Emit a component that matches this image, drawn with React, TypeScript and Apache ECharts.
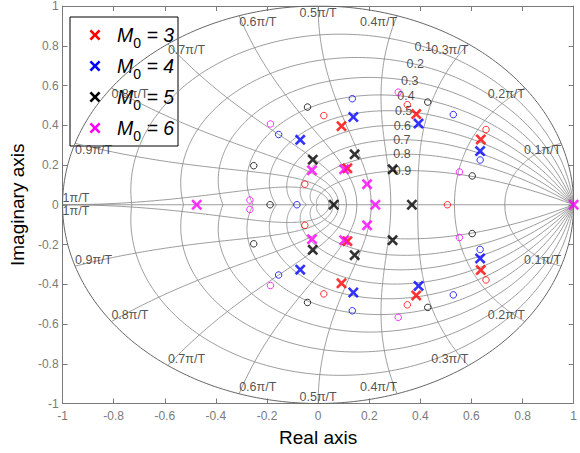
import React, { useEffect, useRef } from 'react';
import * as echarts from 'echarts';

// ---- data ----
const M0_VALUES = [3, 4, 5, 6];
const COLORS = ['#ff0000', '#0000ff', '#000000', '#ff00ff'];

const POLES_M3 = [[0.0915, 0.395], [0.0915, -0.395], [0.1146, 0.1835], [0.1146, -0.1835], [0.384, 0.4565], [0.384, -0.4565], [0.6365, 0.3285], [0.6365, -0.3285]];
const ZEROS_M3 = [[0.0223, 0.4485], [0.0223, -0.4485], [-0.052, 0.1035], [-0.052, -0.1035], [0.349, 0.5035], [0.349, -0.5035], [0.657, 0.3785], [0.657, -0.3785], [0.506, 0]];
const POLES_M4 = [[0.1377, 0.4415], [0.1377, -0.4415], [-0.07, 0.3265], [-0.07, -0.3265], [0.393, 0.4085], [0.393, -0.4085], [0.634, 0.27], [0.634, -0.27]];
const ZEROS_M4 = [[0.1338, 0.5335], [0.1338, -0.5335], [-0.1546, 0.3535], [-0.1546, -0.3535], [-0.083, 0], [0.529, 0.4535], [0.529, -0.4535], [0.634, 0.225], [0.634, -0.225]];
const POLES_M5 = [[0.143, 0.2535], [0.143, -0.2535], [-0.021, 0.2265], [-0.021, -0.2265], [0.061, 0], [0.2915, 0.1785], [0.2915, -0.1785], [0.367, 0]];
const ZEROS_M5 = [[-0.0415, 0.4915], [-0.0415, -0.4915], [-0.252, 0.1965], [-0.252, -0.1965], [-0.188, 0], [0.429, 0.5165], [0.429, -0.5165], [0.603, 0.145], [0.603, -0.145]];
const POLES_M6 = [[-0.024, 0.1735], [-0.024, -0.1735], [0.102, 0.1785], [0.102, -0.1785], [0.1915, 0.1035], [0.1915, -0.1035], [0.224, 0], [-0.475, 0], [1, 0]];
const ZEROS_M6 = [[-0.1865, 0.4065], [-0.1865, -0.4065], [-0.267, 0.0235], [-0.267, -0.0235], [0.3135, 0.5665], [0.3135, -0.5665], [0.553, 0.165], [0.553, -0.165]];

const POLES = [POLES_M3, POLES_M4, POLES_M5, POLES_M6];
const ZEROS = [ZEROS_M3, ZEROS_M4, ZEROS_M5, ZEROS_M6];

// grid (zgrid) parameters
const DAMPING = [0.1, 0.2, 0.3, 0.4, 0.5, 0.6, 0.7, 0.8, 0.9];
const WN_FRACTIONS = [0.1, 0.2, 0.3, 0.4, 0.5, 0.6, 0.7, 0.8, 0.9, 1];
const DAMPING_LABEL_WN = 0.35; // fraction of pi/T where damping labels sit

// axes
const AXIS_MIN = -1;
const AXIS_MAX = 1;
const AXIS_INTERVAL = 0.2;

const FONT = '"Liberation Sans", Arial, Helvetica, sans-serif';
const X_PATH = 'path://M0 1.7L1.7 0L5 3.3L8.3 0L10 1.7L6.7 5L10 8.3L8.3 10L5 6.7L1.7 10L0 8.3L3.3 5Z';

function zetaCurve(z: number, sign: number) {
  const m = z / Math.sqrt(1 - z * z);
  const pts: number[][] = [];
  for (let i = 0; i <= 180; i++) {
    const th = (Math.PI * i) / 180;
    const r = Math.exp(-m * th);
    pts.push([r * Math.cos(th), sign * r * Math.sin(th)]);
  }
  return pts;
}

function wnCurve(frac: number, sign: number) {
  const w = frac * Math.PI;
  const pts: number[][] = [];
  for (let i = 0; i <= 120; i++) {
    const zeta = i / 120;
    const re = -zeta * w;
    const im = w * Math.sqrt(1 - zeta * zeta);
    const r = Math.exp(re);
    pts.push([r * Math.cos(im), sign * r * Math.sin(im)]);
  }
  return pts;
}

function unitCircle() {
  const pts: number[][] = [];
  for (let i = 0; i <= 360; i++) {
    const th = (2 * Math.PI * i) / 360;
    pts.push([Math.cos(th), Math.sin(th)]);
  }
  return pts;
}

// X-shaped legend icon (polygon) centred at cx, cy with half size h
function xIconPoints(cx: number, cy: number, h: number) {
  const t = h * 0.34;
  return [
    [-h, -h + t], [-h + t, -h], [0, -t], [h - t, -h], [h, -h + t], [t, 0],
    [h, h - t], [h - t, h], [0, t], [-h + t, h], [-h, h - t], [-t, 0],
  ].map(([x, y]) => [cx + x, cy + y]);
}

export default function App() {
  const ref = useRef<HTMLDivElement>(null);

  useEffect(() => {
    if (!ref.current) return;
    const chart = echarts.init(ref.current, undefined, { renderer: 'svg' });

    const gridCurves: number[][][] = [];
    DAMPING.forEach((z) => {
      gridCurves.push(zetaCurve(z, 1));
      gridCurves.push(zetaCurve(z, -1));
    });
    WN_FRACTIONS.forEach((f) => {
      gridCurves.push(wnCurve(f, 1));
      gridCurves.push(wnCurve(f, -1));
    });
    gridCurves.push([[AXIS_MIN, 0], [AXIS_MAX, 0]]);

    const freqLabels: any[] = [];
    WN_FRACTIONS.forEach((f) => {
      const a = f * Math.PI;
      const text = `${f}π/T`;
      const align = f < 0.5 ? 'right' : f > 0.5 ? 'left' : 'center';
      [1, -1].forEach((s) => {
        freqLabels.push({
          value: [Math.cos(a), s * Math.sin(a)],
          label: { formatter: text, align, verticalAlign: s > 0 ? 'top' : 'bottom' },
        });
      });
    });
    const dampLabels = DAMPING.map((z) => {
      const w = DAMPING_LABEL_WN * Math.PI;
      const r = Math.exp(-z * w);
      const ang = w * Math.sqrt(1 - z * z);
      return {
        value: [r * Math.cos(ang), r * Math.sin(ang)],
        label: { formatter: String(z), align: 'center', verticalAlign: 'middle' },
      };
    });

    const axisCommon = {
      type: 'value',
      min: AXIS_MIN,
      max: AXIS_MAX,
      interval: AXIS_INTERVAL,
      splitLine: { show: false },
      axisLine: { show: true, onZero: false, lineStyle: { color: '#7a7a7a', width: 1 } },
      axisTick: { show: true, inside: true, length: 5, lineStyle: { color: '#7a7a7a' } },
    };

    const series: any[] = [
      {
        type: 'lines',
        coordinateSystem: 'cartesian2d',
        polyline: true,
        silent: true,
        z: 1,
        lineStyle: { color: '#8a8a8a', width: 0.85, opacity: 1 },
        data: gridCurves.map((c) => ({ coords: c })),
      },
      {
        type: 'lines',
        coordinateSystem: 'cartesian2d',
        polyline: true,
        silent: true,
        z: 1,
        lineStyle: { color: '#666666', width: 1, opacity: 1 },
        data: [{ coords: unitCircle() }],
      },
      {
        type: 'scatter',
        silent: true,
        z: 2,
        symbolSize: 0,
        itemStyle: { color: 'rgba(0,0,0,0)' },
        label: { show: true, position: 'inside', color: '#262626', fontSize: 12.5, fontFamily: FONT },
        data: [...freqLabels, ...dampLabels],
      },
    ];

    M0_VALUES.forEach((m, i) => {
      series.push({
        name: `Z${m}`,
        type: 'scatter',
        z: 4,
        symbol: 'circle',
        symbolSize: 6.5,
        itemStyle: { color: 'rgba(0,0,0,0)', borderColor: COLORS[i], borderWidth: 1 },
        data: ZEROS[i],
      });
    });
    M0_VALUES.forEach((m, i) => {
      series.push({
        name: `M0 = ${m}`,
        type: 'scatter',
        z: 5,
        symbol: X_PATH,
        symbolSize: 11,
        itemStyle: { color: COLORS[i] },
        data: POLES[i],
      });
    });

    // legend box (drawn as graphic so that its geometry matches exactly)
    const LEG_X = 70, LEG_Y = 17, LEG_W = 108, LEG_H = 129, ROW0 = 35, ROW_STEP = 31;
    const legendChildren: any[] = [
      {
        type: 'rect',
        shape: { x: LEG_X, y: LEG_Y, width: LEG_W, height: LEG_H },
        style: { fill: '#ffffff', stroke: '#000000', lineWidth: 1 },
      },
    ];
    M0_VALUES.forEach((m, i) => {
      const cy = ROW0 + ROW_STEP * i;
      legendChildren.push({
        type: 'polygon',
        shape: { points: xIconPoints(95, cy, 5.5) },
        style: { fill: COLORS[i] },
      });
      legendChildren.push({
        type: 'text',
        x: 117,
        y: cy,
        style: {
          text: `{i|M}{s|0}{i| = ${m}}`,
          verticalAlign: 'middle',
          align: 'left',
          rich: {
            i: { fontSize: 19.5, fontStyle: 'italic', fontFamily: FONT, fill: '#000', lineHeight: 30 },
            s: { fontSize: 14, fontFamily: FONT, fill: '#000', lineHeight: 13, verticalAlign: 'bottom' },
          },
        },
      });
    });

    chart.setOption({
      animation: false,
      backgroundColor: '#ffffff',
      grid: { left: 58.5, right: 1.5, top: 4.5, bottom: 49.5, containLabel: false },
      xAxis: [
        {
          ...axisCommon,
          position: 'bottom',
          name: 'Real axis',
          nameLocation: 'middle',
          nameGap: 24,
          nameTextStyle: { color: '#000', fontSize: 19, fontFamily: FONT },
          axisLabel: { color: '#7a7a7a', fontSize: 12, fontFamily: FONT, margin: 6 },
        },
        { ...axisCommon, position: 'top', axisLabel: { show: false } },
      ],
      yAxis: [
        {
          ...axisCommon,
          position: 'left',
          name: 'Imaginary axis',
          nameLocation: 'middle',
          nameGap: 32,
          nameTextStyle: { color: '#000', fontSize: 19, fontFamily: FONT },
          axisLabel: { color: '#7a7a7a', fontSize: 12, fontFamily: FONT, margin: 4 },
        },
        { ...axisCommon, position: 'right', axisLabel: { show: false } },
      ],
      graphic: [{ type: 'group', z: 100, children: legendChildren }],
      series,
    });

    return () => chart.dispose();
  }, []);

  return (
    <div
      ref={ref}
      style={{ position: 'fixed', left: 0, top: 0, width: 580, height: 453, background: '#fff' }}
    />
  );
}
